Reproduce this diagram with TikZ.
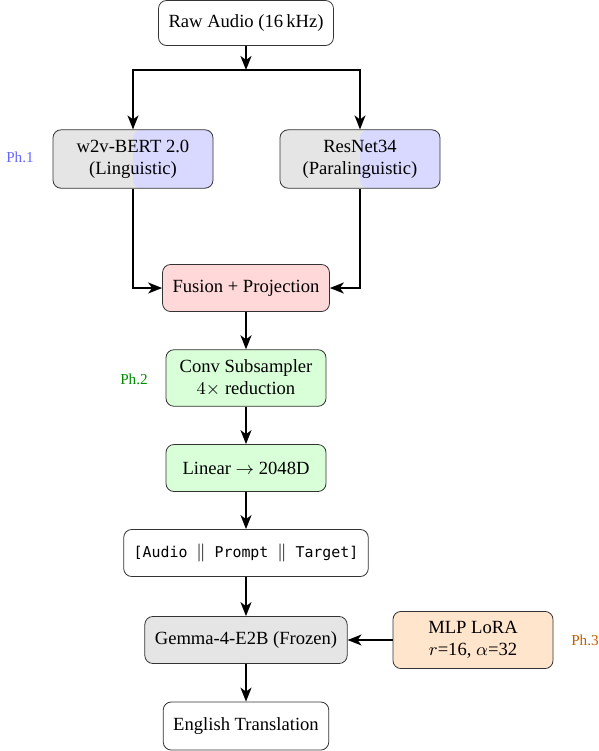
\documentclass[tikz,border=0pt]{standalone}
\usepackage{fontspec}
\setmainfont{Liberation Serif}
\setmonofont[Scale=0.8]{DejaVu Sans Mono}
\usetikzlibrary{arrows.meta}

\begin{document}
\begin{tikzpicture}[x=0.5pt, y=-0.5pt]
   \tikzstyle{box}=[draw=black!80, rounded corners=4pt, align=center, minimum width=80pt, minimum height=23.5pt, inner sep=5pt, font=\fontsize{9.3}{11}\selectfont]
   \tikzstyle{enc}=[box, fill=gray!20, minimum height=29pt, path picture={\fill[blue!15] (path picture bounding box.north) rectangle (path picture bounding box.south east);}]
   \tikzstyle{arr}=[-{Stealth[length=7pt, width=5.5pt, inset=2pt]}, line width=0.9pt]
   \tikzstyle{phase}=[font=\fontsize{7.6}{9}\selectfont]

\useasboundingbox (0,0) rectangle (599,751);

\node[box, minimum height=22.5pt] (raw) at (246,23) {Raw Audio (16\,kHz)};
\coordinate (split) at (246,70);

\node[enc] (w2v) at (133,159) {w2v-BERT 2.0\\(Linguistic)};
\node[enc] (resnet) at (360,159) {ResNet34\\(Paralinguistic)};
\node[phase, text=blue!60] (ph1) at (20,157) {Ph.1};

\node[box, fill=red!15] (fusion) at (246,288) {Fusion + Projection};

\node[box, fill=green!15, minimum height=28pt] (conv) at (246,378) {Conv Subsampler\\$4\times$ reduction};
\node[phase, text=green!55!black] (ph2) at (134,379) {Ph.2};
\node[box, fill=green!15] (linear) at (246,468) {Linear $\rightarrow$ 2048D};

\node[box] (concat) at (246,553) {\texttt{[Audio $\|$ Prompt $\|$ Target]}};

\node[box, fill=gray!20] (gemma) at (246,640) {Gemma-4-E2B (Frozen)};
\node[box, fill=orange!20, minimum height=28pt] (lora) at (473,640) {MLP LoRA\\$r$=16, $\alpha$=32};
\node[phase, text=orange!75!black] (ph3) at (585,640) {Ph.3};

\node[box, minimum height=24pt] (out) at (246,726) {English Translation};

% connectors
\draw[arr] (raw.south) -- (split);
\draw[arr] (split) -| (w2v.north);
\draw[arr] (split) -| (resnet.north);
\draw[arr] (w2v.south) |- (fusion.west);
\draw[arr] (resnet.south) |- (fusion.east);
\draw[arr] (fusion) -- (conv);
\draw[arr] (conv) -- (linear);
\draw[arr] (linear) -- (concat);
\draw[arr] (concat) -- (gemma);
\draw[arr] (lora) -- (gemma);
\draw[arr] (gemma) -- (out);

\end{tikzpicture}
\end{document}
